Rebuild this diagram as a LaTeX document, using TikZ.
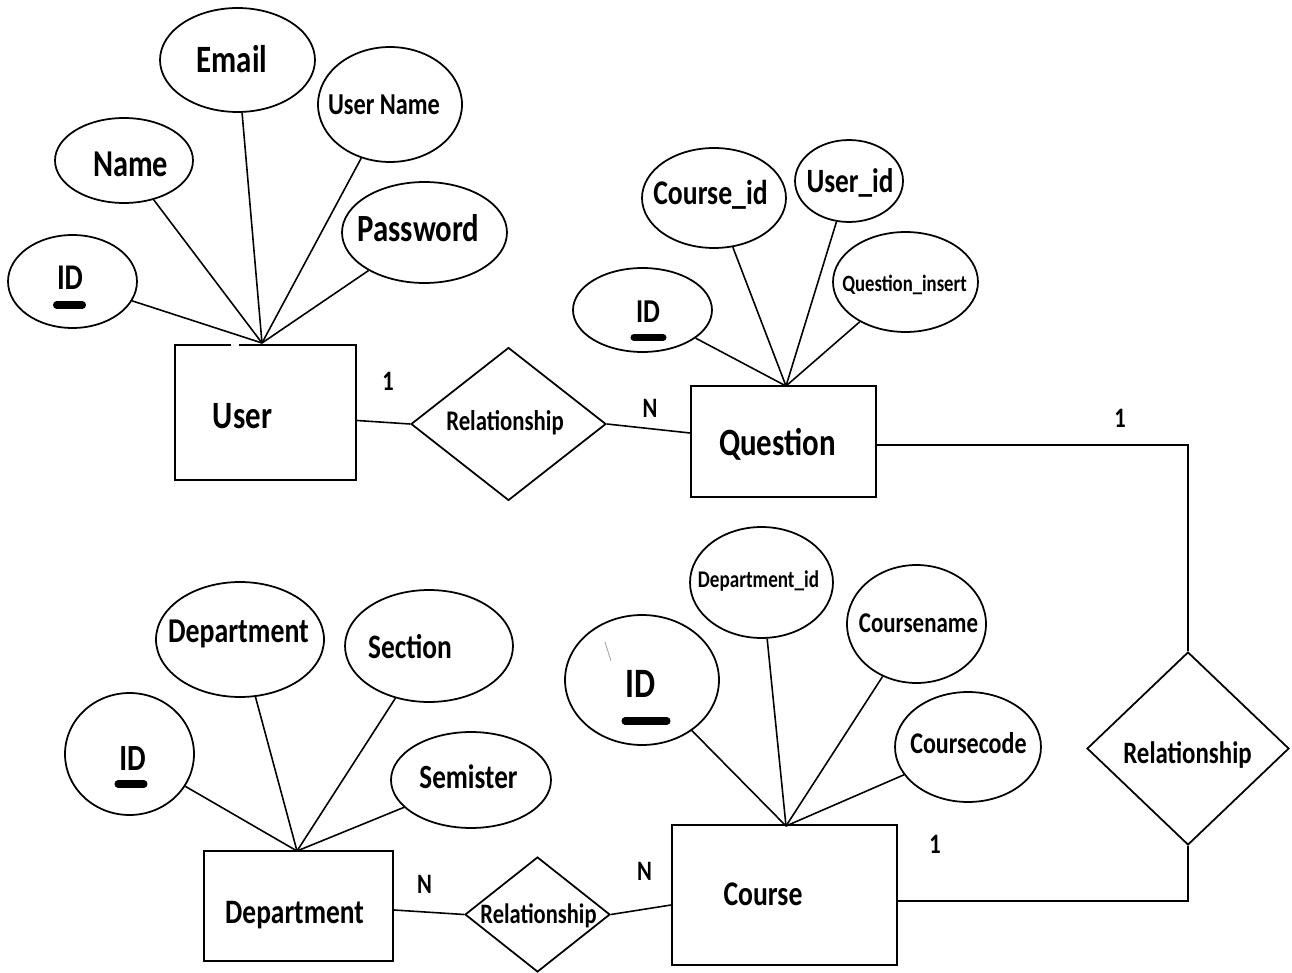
\documentclass[tikz,border=0pt]{standalone}
\usepackage{fontspec}
\setmainfont{Carlito}[FakeStretch=0.8]
\usetikzlibrary{shapes.geometric,calc}
\newcommand\fsz[1]{\fontsize{#1}{#1}\selectfont}
\begin{document}
\begin{tikzpicture}[x=0.02cm,y=-0.02cm,
  entity/.style={draw,rectangle,inner sep=0pt,line width=1.1pt},
  attr/.style={draw,ellipse,inner sep=0pt,line width=1pt},
  rel/.style={draw,diamond,inner sep=0pt,line width=1pt},
  txt/.style={inner sep=0pt,anchor=base,font=\bfseries},
  card/.style={inner sep=0pt,anchor=base},
  link/.style={line width=0.9pt},
  keybar/.style={line width=4pt,line cap=round}
]
\fill[white] (0,0) rectangle (1292,973);
\useasboundingbox (0,0) rectangle (1292,973);

% entities
\node[entity, minimum width=3.62cm, minimum height=2.70cm] (user) at (265.5,412.5) {};
\node[entity, minimum width=3.70cm, minimum height=2.22cm] (question) at (783.5,441.5) {};
\node[entity, minimum width=3.78cm, minimum height=2.20cm] (dept) at (298.5,906) {};
\node[entity, minimum width=4.50cm, minimum height=2.80cm] (course) at (784.5,895) {};
\draw[white,line width=2pt] (231,345) -- (239,345);

% relationships
\node[rel, minimum width=3.90cm, minimum height=3.06cm] (r1) at (508.5,424) {};
\node[rel, minimum width=4.04cm, minimum height=3.86cm] (r2) at (1188,748.5) {};
\node[rel, minimum width=2.90cm, minimum height=2.30cm] (r3) at (537.5,914.5) {};

% attributes of User
\node[attr, minimum width=2.58cm, minimum height=1.86cm] (uid) at (72.5,281.5) {};
\node[attr, minimum width=2.76cm, minimum height=1.70cm] (uname) at (124,160.5) {};
\node[attr, minimum width=3.10cm, minimum height=2.08cm] (uemail) at (237.5,60) {};
\node[attr, minimum width=2.88cm, minimum height=2.30cm] (uuser) at (390,104.5) {};
\node[attr, minimum width=3.30cm, minimum height=2.02cm] (upass) at (424.5,232.5) {};

% attributes of Question
\node[attr, minimum width=2.78cm, minimum height=1.68cm] (qid) at (642.5,310) {};
\node[attr, minimum width=2.88cm, minimum height=2.00cm] (qcourse) at (714,198) {};
\node[attr, minimum width=2.16cm, minimum height=1.64cm] (quser) at (849,181) {};
\node[attr, minimum width=2.90cm, minimum height=2.00cm] (qins) at (905.5,282) {};

% attributes of Department
\node[attr, minimum width=2.58cm, minimum height=2.44cm] (did) at (129.5,754) {};
\node[attr, minimum width=3.36cm, minimum height=2.30cm] (ddept) at (240,639.5) {};
\node[attr, minimum width=3.36cm, minimum height=2.24cm] (dsec) at (429,646) {};
\node[attr, minimum width=3.20cm, minimum height=1.92cm] (dsem) at (471,780) {};

% attributes of Course
\node[attr, minimum width=3.08cm, minimum height=2.60cm] (cid) at (642,680) {};
\node[attr, minimum width=2.86cm, minimum height=2.22cm] (cdept) at (761.5,582.5) {};
\node[attr, minimum width=2.78cm, minimum height=2.36cm] (cname) at (916.5,624) {};
\node[attr, minimum width=2.92cm, minimum height=2.20cm] (ccode) at (968,747) {};

% junctions on the entity tops
\coordinate (uj) at (262,343);
\coordinate (qj) at (786,386);
\coordinate (dj) at (297,851);
\coordinate (cj) at (786,826);

\foreach \a in {uid,uname,uemail,uuser,upass} \draw[link] (\a) -- (uj);
\foreach \a in {qid,qcourse,quser,qins} \draw[link] (\a) -- (qj);
\foreach \a in {did,ddept,dsec,dsem} \draw[link] (\a) -- (dj);
\foreach \a in {cid,cdept,cname,ccode} \draw[link] (\a) -- (cj);

% entity--relationship connectors
\draw[link] ($(user.east)+(0,8)$) -- (r1.west);
\draw[link] (r1.east) -- ($(question.west)+(0,-8.5)$);
\draw[link] ($(question.east)+(0,3.5)$) -| (r2.north);
\draw[link] ($(course.east)+(0,6)$) -| (r2.south);
\draw[link] ($(dept.east)+(0,4)$) -- (r3.west);
\draw[link] (r3.east) -- ($(course.west)+(0,10)$);

% key underlines
\draw[keybar] ($(uid)+(-16,23.5)$) -- ++(26,0);
\draw[keybar] ($(qid)+(-8.5,27.5)$) -- ++(29,0);
\draw[keybar] ($(did)+(-11.5,30)$) -- ++(26,0);
\draw[keybar] ($(cid)+(-17,41)$) -- ++(42,0);
\draw[gray!70,line width=0.5pt] ($(cid)+(-37,-38)$) -- ++(6,19);

% texts
\node[txt, font=\bfseries\fsz{22}] (t-user) at (242.5,428) {User};
\node[txt, font=\bfseries\fsz{22}] (t-question) at (777.5,455) {Question};
\node[txt, font=\bfseries\fsz{19.5}] (t-dept) at (294.5,923) {Department};
\node[txt, font=\bfseries\fsz{19.7}] (t-course) at (763,905) {Course};

\node[txt, font=\bfseries\fsz{16.2}] (t-r1) at (505,430) {Relationship};
\node[txt, font=\bfseries\fsz{17.7}] (t-r2) at (1187.5,763) {Relationship};
\node[txt, font=\bfseries\fsz{16}] (t-r3) at (538.5,923) {Relationship};

\node[txt, font=\bfseries\fsz{20.6}] (t-uid) at (70,290) {ID};
\node[txt, font=\bfseries\fsz{21.6}] (t-uname) at (130.5,177) {Name};
\node[txt, font=\bfseries\fsz{22}] (t-uemail) at (232,73) {Email};
\node[txt, font=\bfseries\fsz{17.3}] (t-uuser) at (384,115) {User Name};
\node[txt, font=\bfseries\fsz{21.9}] (t-upass) at (418.5,242) {Password};

\node[txt, font=\bfseries\fsz{19}] (t-qid) at (648,322) {ID};
\node[txt, font=\bfseries\fsz{19.7}] (t-qcourse) at (710.5,205) {Course\_id};
\node[txt, font=\bfseries\fsz{19.4}] (t-quser) at (850,193) {User\_id};
\node[txt, font=\bfseries\fsz{13.3}] (t-qins) at (904.5,292) {Question\_insert};

\node[txt, font=\bfseries\fsz{21}] (t-did) at (132.5,770) {ID};
\node[txt, font=\bfseries\fsz{19.8}] (t-ddept) at (238.5,642) {Department};
\node[txt, font=\bfseries\fsz{19.5}] (t-dsec) at (410,658) {Section};
\node[txt, font=\bfseries\fsz{19.3}] (t-dsem) at (468.5,788) {Semister};

\node[txt, font=\bfseries\fsz{23.8}] (t-cid) at (640.5,697) {ID};
\node[txt, font=\bfseries\fsz{13.6}] (t-cdept) at (758.5,587) {Department\_id};
\node[txt, font=\bfseries\fsz{16.3}] (t-cname) at (918.5,632) {Coursename};
\node[txt, font=\bfseries\fsz{17.1}] (t-ccode) at (968.5,753) {Coursecode};

% cardinalities
\node[card, font=\bfseries\fsz{16}] (c1) at (388,390) {1};
\node[card, font=\bfseries\fsz{16}] (c2) at (650,418) {N};
\node[card, font=\bfseries\fsz{16}] (c3) at (1120,427) {1};
\node[card, font=\bfseries\fsz{16}] (c4) at (424.5,893) {N};
\node[card, font=\bfseries\fsz{16}] (c5) at (644.5,880) {N};
\node[card, font=\bfseries\fsz{16}] (c6) at (935,853) {1};
\end{tikzpicture}
\end{document}
